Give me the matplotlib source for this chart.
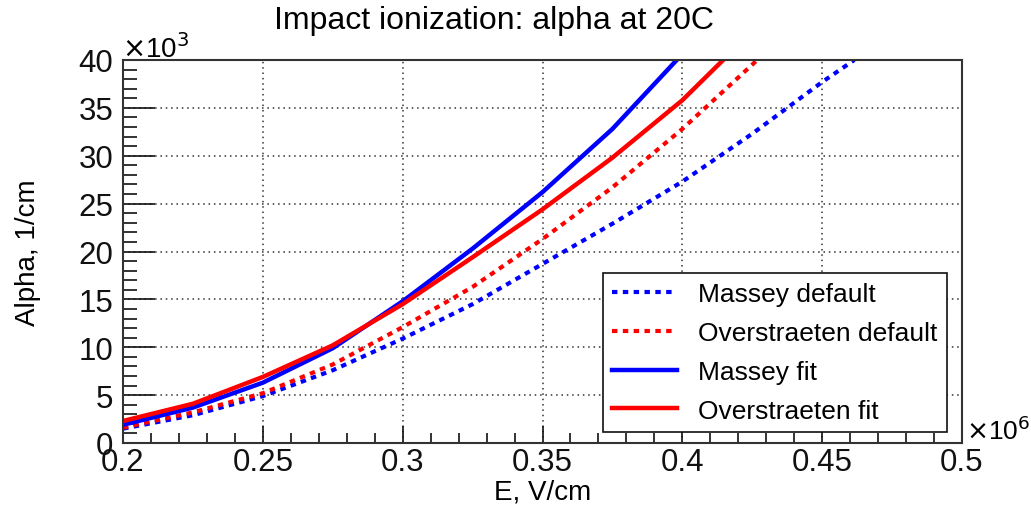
import matplotlib
matplotlib.use("Agg")
import matplotlib.pyplot as plt
from matplotlib.ticker import MultipleLocator, FuncFormatter

plt.rcParams["font.family"] = ["Liberation Sans", "DejaVu Sans"]

# E in units of 1e6 V/cm, alpha in units of 1e3 1/cm
e_massey_default = [0.2, 0.225, 0.25, 0.275, 0.3, 0.325, 0.35, 0.375, 0.4, 0.425, 0.45, 0.4615]
a_massey_default = [1.5, 2.9, 4.9, 7.6, 10.9, 14.5, 18.7, 22.9, 27.3, 32.3, 37.7, 40.0]

e_over_default = [0.2, 0.225, 0.25, 0.275, 0.3, 0.325, 0.35, 0.375, 0.4, 0.4268]
a_over_default = [1.6, 3.2, 5.2, 8.2, 12.1, 16.3, 21.3, 26.7, 32.8, 40.0]

e_massey_fit = [0.2, 0.225, 0.25, 0.275, 0.3, 0.325, 0.35, 0.375, 0.398]
a_massey_fit = [1.9, 3.7, 6.3, 9.9, 14.8, 20.3, 26.2, 32.8, 40.0]

e_over_fit = [0.2, 0.225, 0.25, 0.275, 0.3, 0.325, 0.35, 0.375, 0.4, 0.4146]
a_over_fit = [2.3, 4.1, 6.9, 10.2, 14.5, 19.4, 24.4, 29.8, 35.8, 40.0]

fig = plt.figure(figsize=(10.31, 5.10), dpi=100)
ax = fig.add_axes([123 / 1031, 66 / 510, 839 / 1031, 383 / 510])

dots = (0, (1.3, 1.3))
ax.plot(e_massey_default, a_massey_default, color="#0000ff", lw=3, ls=dots, label="Massey default")
ax.plot(e_over_default, a_over_default, color="#ff0000", lw=3, ls=dots, label="Overstraeten default")
ax.plot(e_massey_fit, a_massey_fit, color="#0000ff", lw=3.2, label="Massey fit")
ax.plot(e_over_fit, a_over_fit, color="#ff0000", lw=3.2, label="Overstraeten fit")

ax.set_xlim(0.2, 0.5)
ax.set_ylim(0, 40)
ax.xaxis.set_major_locator(MultipleLocator(0.05))
ax.xaxis.set_minor_locator(MultipleLocator(0.01))
ax.yaxis.set_major_locator(MultipleLocator(5))
ax.yaxis.set_minor_locator(MultipleLocator(1))
ax.xaxis.set_major_formatter(FuncFormatter(lambda v, p: f"{v:g}"))
ax.yaxis.set_major_formatter(FuncFormatter(lambda v, p: f"{v:g}"))

ax.tick_params(axis="both", which="both", direction="in", labelsize=22.5, colors="#111111")
ax.tick_params(axis="x", which="major", length=12, width=1.2, pad=3)
ax.tick_params(axis="x", which="minor", length=7, width=1.2)
ax.tick_params(axis="y", which="major", length=23, width=1.2, pad=7)
ax.tick_params(axis="y", which="minor", length=10, width=1.2)

ax.grid(True, which="major", ls=(0, (1, 2.5)), color="#333333", lw=1.1)
for s in ax.spines.values():
    s.set_color("#333333")
    s.set_linewidth(1.5)

ax.set_xlabel("E, V/cm", fontsize=20, labelpad=1)
ax.set_ylabel("Alpha, 1/cm", fontsize=20, labelpad=27)

fig.text(494 / 1031, 1 - 21 / 510, "Impact ionization: alpha at 20C", fontsize=23, ha="center", va="center")
fig.text(122 / 1031, 1 - 58 / 510, r"$\times$10$^{3}$", fontsize=20, ha="left", va="baseline")
fig.text(966 / 1031, 1 - 440 / 510, r"$\times$10$^{6}$", fontsize=19, ha="left", va="baseline")

leg = ax.legend(loc="lower left", bbox_to_anchor=(0.572, 0.029), borderaxespad=0,
                fontsize=19, handlelength=2.45, handletextpad=0.8, labelspacing=0.56,
                borderpad=0.35, fancybox=False, framealpha=1, edgecolor="#111111")
leg.get_frame().set_linewidth(1.2)

fig.savefig("out.png", dpi=100)
